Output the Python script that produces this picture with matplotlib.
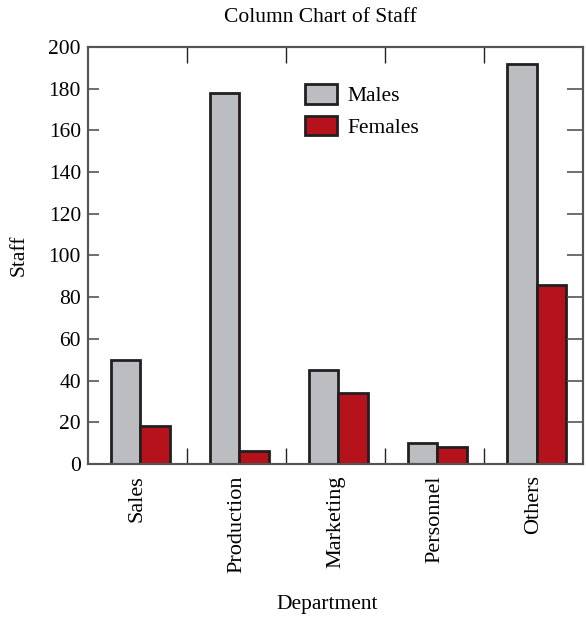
import matplotlib
matplotlib.use("Agg")
import matplotlib.pyplot as plt
import numpy as np

departments = ["Sales", "Production", "Marketing", "Personnel", "Others"]
males = [50, 178, 45, 10, 192]
females = [18, 6, 34, 8, 86]
yticks = [0, 20, 40, 60, 80, 100, 120, 140, 160, 180, 200]

plt.rcParams['font.family'] = ['Liberation Serif', 'DejaVu Serif']
FS = 15.5

fig = plt.figure(figsize=(5.86, 6.19), dpi=100)
ax = fig.add_axes([0.150, 0.2504, 0.845, 0.6737])

x = np.arange(len(departments))
w = 0.30
off = 0.03
edge = '#231f20'
ax.bar(x - w/2 + off, males, width=w, color='#bcbdc0', edgecolor=edge, linewidth=2.0, label='Males')
ax.bar(x + w/2 + off, females, width=w, color='#b5121b', edgecolor=edge, linewidth=2.0, label='Females')

ax.set_xlim(-0.5, 4.5)
ax.set_ylim(0, 200)
ax.set_yticks(yticks)
ax.set_xticks(x)
ax.set_xticklabels(departments, rotation=90, fontsize=16)
ax.set_xticks(np.arange(0.5, 4.5, 1), minor=True)
ax.tick_params(axis='x', which='major', length=0, pad=8)
ax.tick_params(axis='x', which='minor', direction='in', length=11.5, top=True, bottom=True, color='#222222', width=1)
ax.tick_params(axis='y', which='major', direction='in', length=8, labelsize=FS, color='#555555', width=1.2, pad=5)

ax2 = ax.twinx()
ax2.set_ylim(0, 200)
ax2.set_yticks(yticks)
ax2.tick_params(axis='y', direction='in', length=11.5, labelright=False, color='#555555', width=1.2)

for a in (ax, ax2):
    for s in a.spines.values():
        s.set_color('#555555')
        s.set_linewidth(1.5)

fig.text(320/586, 1 - 18/619, "Column Chart of Staff", fontsize=FS, ha='center', va='center')
ax.set_ylabel("Staff", fontsize=FS, labelpad=14)
fig.text(327/586, 1 - 605/619, "Department", fontsize=FS, ha='center', va='center')

leg = ax.legend(loc='upper left', bbox_to_anchor=(0.40, 0.957), frameon=False, fontsize=FS,
                handlelength=1.45, handleheight=1.0, handletextpad=0.5, labelspacing=0.45)

fig.savefig("out.png", dpi=100)
